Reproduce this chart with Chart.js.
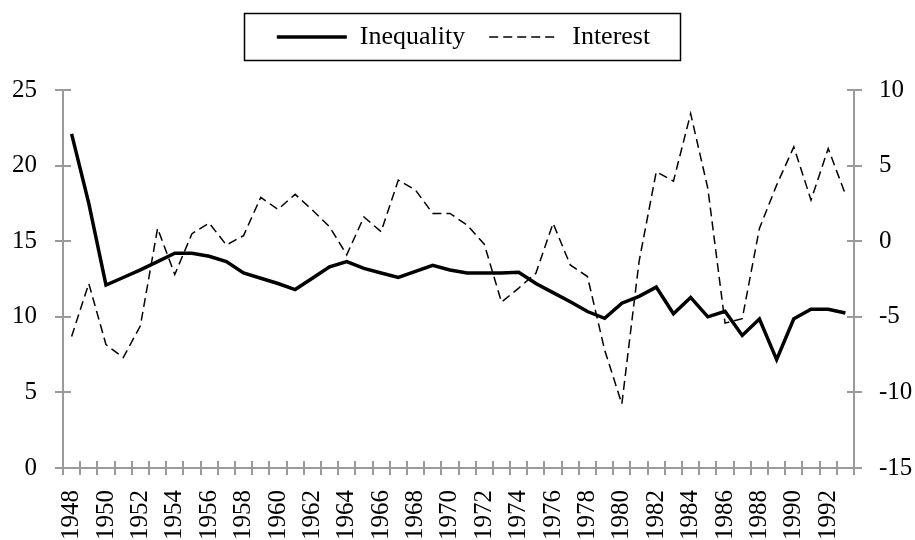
<!DOCTYPE html>
<html>
<head>
<meta charset="utf-8">
<script src="https://cdn.jsdelivr.net/npm/chart.js@4.4.0/dist/chart.umd.min.js"></script>
<style>
  html, body { margin: 0; padding: 0; background: #fff; }
  #wrap { width: 915px; height: 540px; }
</style>
</head>
<body>
<div id="wrap"><canvas id="chart" width="915" height="540"></canvas></div>
<script>
// Data
const years = [];
for (let y = 1948; y <= 1993; y++) years.push(String(y));

const inequality = [
  22.1, 17.5, 12.1, 12.6, 13.1, 13.65, 14.2, 14.2, 14.0, 13.65,
  12.9, 12.55, 12.2, 11.8, 12.55, 13.3, 13.65, 13.2, 12.9, 12.6,
  13.0, 13.4, 13.1, 12.9, 12.9, 12.9, 12.95, 12.2, 11.6, 11.0,
  10.35, 9.9, 10.9, 11.35, 11.96, 10.2, 11.28, 10.0, 10.36, 8.77,
  9.85, 7.17, 9.87, 10.5, 10.5, 10.25
];

const interest = [
  -6.3, -2.8, -6.84, -7.7, -5.6, 0.85, -2.2, 0.5, 1.2, -0.25,
  0.37, 2.9, 2.1, 3.1, 2.06, 0.96, -0.9, 1.6, 0.63, 4.04,
  3.38, 1.84, 1.84, 1.07, -0.2, -4.03, -3.1, -2.12, 1.18, -1.57,
  -2.34, -7.2, -10.76, -1.35, 4.59, 3.97, 8.44, 3.49, -5.42, -5.13,
  0.85, 3.71, 6.24, 2.72, 6.13, 3.1
];

const axisColor = '#9a9a9a';
const serif = "'Liberation Serif', 'Times New Roman', serif";

// crossing tick marks like the original, plus the box round the legend
const extras = {
  id: 'extras',
  afterDraw(chart) {
    const { ctx, chartArea, scales } = chart;
    ctx.save();
    ctx.strokeStyle = axisColor;
    ctx.lineWidth = 2;
    ctx.beginPath();
    scales.y.ticks.forEach(t => {
      const py = Math.round(scales.y.getPixelForValue(t.value));
      ctx.moveTo(chartArea.left - 8, py);
      ctx.lineTo(chartArea.left + 8, py);
    });
    scales.y1.ticks.forEach(t => {
      const py = Math.round(scales.y1.getPixelForValue(t.value));
      ctx.moveTo(chartArea.right - 7, py);
      ctx.lineTo(chartArea.right + 8, py);
    });
    for (let i = 0; i <= years.length; i++) {
      const px = Math.round(scales.x.getPixelForValue(i - 0.5));
      ctx.moveTo(px, chartArea.bottom - 7);
      ctx.lineTo(px, chartArea.bottom + 7);
    }
    ctx.stroke();

    // legend frame
    const hb = chart.legend.legendHitBoxes;
    if (hb && hb.length) {
      const last = hb[hb.length - 1];
      const x0 = hb[0].left - 33;
      const x1 = last.left + last.width + 30;
      const y0 = hb[0].top - 11;
      const y1 = hb[0].top + hb[0].height + 10;
      ctx.strokeStyle = '#000';
      ctx.lineWidth = 1.5;
      ctx.strokeRect(Math.round(x0) + 0.5, Math.round(y0) + 0.5, Math.round(x1 - x0), Math.round(y1 - y0));
    }
    ctx.restore();
  }
};

const ctx = document.getElementById('chart').getContext('2d');
const chart = new Chart(ctx, {
  type: 'line',
  data: {
    labels: years,
    datasets: [
      {
        label: 'Inequality',
        data: inequality,
        yAxisID: 'y',
        borderColor: '#000',
        backgroundColor: '#000',
        borderWidth: 3.5,
        pointRadius: 0,
        tension: 0
      },
      {
        label: 'Interest',
        data: interest,
        yAxisID: 'y1',
        borderColor: '#000',
        backgroundColor: '#000',
        borderWidth: 1.5,
        borderDash: [9, 5],
        pointRadius: 0,
        tension: 0
      }
    ]
  },
  options: {
    responsive: false,
    animation: false,
    layout: { padding: { left: 12, right: 0, top: 0, bottom: 0 } },
    plugins: {
      legend: {
        display: true,
        position: 'top',
        labels: {
          color: '#000',
          font: { family: serif, size: 26 },
          usePointStyle: true,
          pointStyle: 'line',
          pointStyleWidth: 70,
          padding: 24,
          // point styles don't carry the dash, take it from the dataset
          generateLabels(chart) {
            const items = Chart.defaults.plugins.legend.labels.generateLabels(chart);
            items.forEach(it => {
              const ds = chart.data.datasets[it.datasetIndex];
              it.lineDash = ds.borderDash || [];
              it.lineWidth = ds.borderWidth;
            });
            return items;
          }
        }
      },
      // empty spacer between legend and plot
      title: {
        display: true,
        text: '',
        weight: 500,
        font: { size: 20 },
        padding: { top: 6, bottom: 0 }
      },
      tooltip: { enabled: false }
    },
    scales: {
      x: {
        type: 'category',
        offset: true,
        grid: { display: false, drawTicks: false, offset: true },
        border: { display: true, color: axisColor, width: 2 },
        afterFit(scale) {
          scale.height = 72;
          scale.paddingLeft = 0;
          scale.paddingRight = 0;
        },
        ticks: {
          autoSkip: false,
          minRotation: 90,
          maxRotation: 90,
          padding: 22,
          color: '#000',
          font: { family: serif, size: 25 },
          callback: function (val, idx) { return idx % 2 === 0 ? this.getLabelForValue(val) : ''; }
        }
      },
      y: {
        position: 'left',
        min: 0,
        max: 25,
        grid: { display: false, drawTicks: false },
        border: { display: true, color: axisColor, width: 2 },
        afterFit(scale) { scale.width = 51; },
        ticks: { stepSize: 5, padding: 26, color: '#000', font: { family: serif, size: 25 } }
      },
      y1: {
        position: 'right',
        min: -15,
        max: 10,
        grid: { display: false, drawTicks: false },
        border: { display: true, color: axisColor, width: 2 },
        afterFit(scale) { scale.width = 61; },
        ticks: { stepSize: 5, padding: 25, color: '#000', font: { family: serif, size: 25 } }
      }
    }
  },
  plugins: [extras]
});
</script>
</body>
</html>
